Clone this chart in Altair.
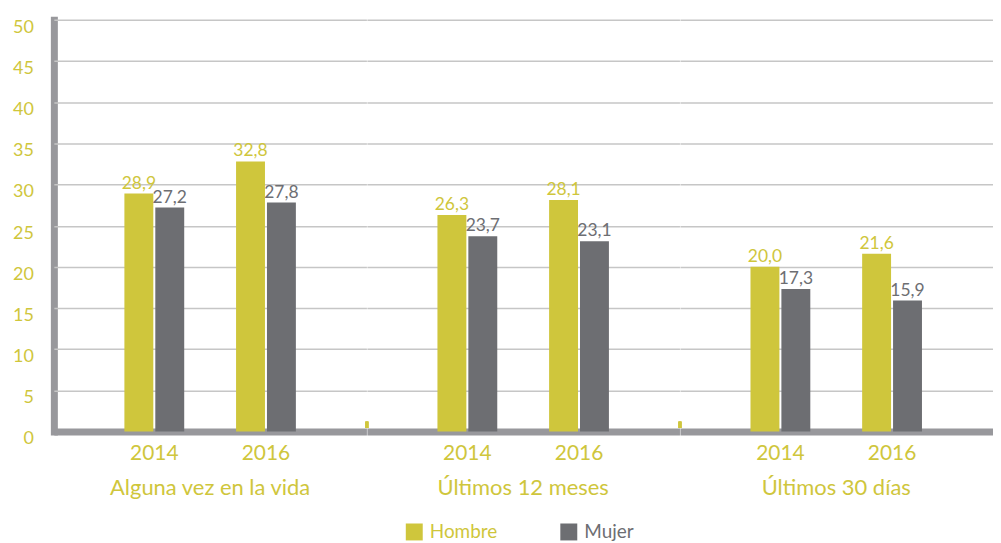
import altair as alt
import pandas as pd

groups = ["Alguna vez en la vida", "Últimos 12 meses", "Últimos 30 días"]
years = ["2014", "2016"]
genders = ["Hombre", "Mujer"]
hombre = [28.9, 32.8, 26.3, 28.1, 20.0, 21.6]
mujer = [27.2, 27.8, 23.7, 23.1, 17.3, 15.9]
y_ticks = [0, 5, 10, 15, 20, 25, 30, 35, 40, 45, 50]

rows = []
i = 0
for g in groups:
    for yr in years:
        rows.append(dict(grupo=g, anio=yr, sexo="Hombre", valor=hombre[i]))
        rows.append(dict(grupo=g, anio=yr, sexo="Mujer", valor=mujer[i]))
        i += 1
df = pd.DataFrame(rows)
df["etiqueta"] = df["valor"].map(lambda v: f"{v:.1f}".replace(".", ","))

YEL = "#cfc63c"
GRY = "#6d6e72"
AX = "#98989c"
GRID = "#c6c6c6"
FONT = "Lato"
W = 313.5
H = 413

cscale = alt.Scale(domain=genders, range=[YEL, GRY])

x = alt.X("anio:N", scale=alt.Scale(paddingInner=0.4643, paddingOuter=0.6317),
          axis=alt.Axis(title=None, ticks=False, labelAngle=0, labelFontSize=21,
                        labelColor=YEL, labelFont=FONT, labelPadding=11,
                        domainColor=AX, domainWidth=7, grid=False))
xo = alt.XOffset("sexo:N", scale=alt.Scale(domain=genders, paddingInner=0.0645, paddingOuter=0))
y = alt.Y("valor:Q", scale=alt.Scale(domain=[0, 50]),
          axis=alt.Axis(title=None, values=y_ticks, ticks=False, labelFontSize=18,
                        labelColor=YEL, labelFont=FONT, labelPadding=20.5,
                        labelBaseline="middle", labelOffset=7.5,
                        domainColor=AX, domainWidth=7, domainCap="square",
                        gridColor={"condition": {"test": "datum.value === 0", "value": "transparent"},
                                   "value": GRID},
                        gridWidth=1.5))

bars = alt.Chart().mark_bar().encode(
    x=x, xOffset=xo, y=y,
    color=alt.Color("sexo:N", scale=cscale, sort=genders,
                    legend=alt.Legend(title=None, orient="none", direction="horizontal",
                                      legendX=352, legendY=504, symbolType="square",
                                      symbolSize=289, symbolStrokeWidth=0,
                                      labelFontSize=19, labelFont=FONT, labelOffset=6,
                                      columnPadding=62, padding=0,
                                      labelColor={"expr": f"datum.value == 'Hombre' ? '{YEL}' : '{GRY}'"})),
)
text = alt.Chart().mark_text(baseline="alphabetic", dy=-5, fontSize=17.5, font=FONT).encode(
    x=x, xOffset=xo, y=y, text="etiqueta:N",
    color=alt.Color("sexo:N", scale=cscale, legend=None),
)
sep = alt.Chart().transform_filter(alt.datum.grupo != groups[0]).mark_rule(
    color=YEL, strokeWidth=3).encode(
    x=alt.value(0), y=alt.value(H - 10), y2=alt.value(H - 3.5))

layer = alt.layer(bars, text, sep, data=df).properties(width=W, height=H)

chart = layer.facet(
    column=alt.Column("grupo:N", sort=groups,
                      header=alt.Header(title=None, labelOrient="bottom", labelFontSize=22,
                                        labelColor=YEL, labelFont=FONT, labelPadding=15,
                                        labelBaseline="top")),
    spacing=0,
).properties(
    bounds="flush",
    padding={"left": 4, "top": 9, "right": 0, "bottom": 0},
).configure_view(stroke="transparent", strokeWidth=0)

chart.save("out.html", embed_options={"renderer": "svg", "actions": False})
